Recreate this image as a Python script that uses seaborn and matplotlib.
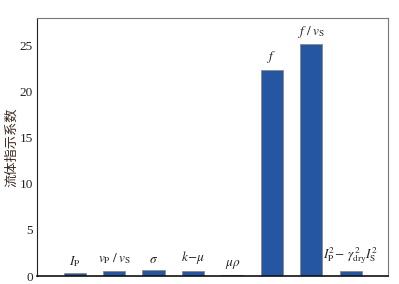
import pandas as pd
import matplotlib
matplotlib.use("Agg")
import matplotlib.pyplot as plt
import seaborn as sns

# data
categories = ["Ip", "vp/vs", "sigma", "k-mu", "mu-rho", "f", "f/vs", "Ip2-gIs2"]
values = [0.35, 0.6, 0.65, 0.6, 0.15, 22.4, 25.2, 0.6]
labels = [r"$I_\mathrm{P}$", r"$v_\mathrm{P}\;/\;v_\mathrm{S}$", r"$\sigma$",
          r"$k\!-\!\mu$", r"$\mu\rho$", r"$f$", r"$f\;/\;v_\mathrm{S}$",
          r"$I_\mathrm{P}^2\!-\,\gamma^{\,2}_\mathrm{dry}I_\mathrm{S}^2$"]
yticks = [0, 5, 10, 15, 20, 25]

sns.set_style("white")
plt.rcParams["font.family"] = ["Liberation Serif", "Noto Sans CJK SC"]
plt.rcParams["mathtext.fontset"] = "stix"

df = pd.DataFrame({"cat": categories, "val": values})

fig, ax = plt.subplots(figsize=(3.99, 2.84), dpi=100)
sns.barplot(data=df, x="cat", y="val", color="#2456a2", saturation=1,
            width=0.56, edgecolor="#8a8a8a", linewidth=0.6, ax=ax)

for p, lab in zip(ax.patches, labels):
    ax.text(p.get_x() + p.get_width() / 2, p.get_height() + 0.45, lab,
            ha="center", va="bottom", fontsize=9.5, color="#222222")

ax.set_xlim(-0.95, 7.95)
ax.set_ylim(0, 28)
ax.set_yticks(yticks)
ax.set_xticks([])
ax.set_xlabel("")
ax.set_ylabel("流体指示系数", family=["Noto Sans CJK SC"], fontsize=9.5, color="#3a2a20", labelpad=1)
ax.tick_params(axis="y", labelsize=9.5, length=2, direction="in", pad=3, colors="#222222")

for s in ["top", "right"]:
    ax.spines[s].set_color("#777777")
    ax.spines[s].set_linewidth(0.8)
ax.spines["left"].set_color("#222222")
ax.spines["left"].set_linewidth(0.8)
ax.spines["bottom"].set_color("#111111")
ax.spines["bottom"].set_linewidth(1.2)

fig.subplots_adjust(left=0.093, right=0.973, top=0.937, bottom=0.028)
fig.savefig("out.png", dpi=100)
